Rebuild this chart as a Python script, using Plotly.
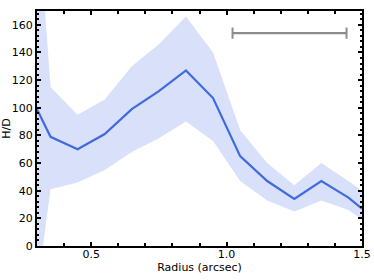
import plotly.graph_objects as go

radius = [0.3, 0.35, 0.45, 0.55, 0.65, 0.75, 0.85, 0.95, 1.05, 1.15, 1.25, 1.35, 1.45, 1.5]
hd = [99, 79, 70, 81, 99, 112, 127, 107, 65, 47, 34, 47, 35, 27]
hd_upper = [250, 115, 95, 106, 130, 146, 166, 140, 84, 60, 44, 60, 47, 40]
hd_lower = [-32, 41, 46, 55, 68, 78, 90, 76, 47, 33, 25, 33, 26, 19]
bar_x = [1.022, 1.443]
bar_y = [154, 154]

fig = go.Figure()
fig.add_trace(go.Scatter(x=radius, y=hd_upper, mode="lines", line=dict(width=0),
                         hoverinfo="skip", showlegend=False))
fig.add_trace(go.Scatter(x=radius, y=hd_lower, mode="lines", line=dict(width=0),
                         fill="tonexty", fillcolor="rgba(100,135,230,0.25)",
                         hoverinfo="skip", showlegend=False))
fig.add_trace(go.Scatter(x=radius, y=hd, mode="lines",
                         line=dict(color="#4169E1", width=2.2), showlegend=False))
fig.add_trace(go.Scatter(x=bar_x, y=bar_y, mode="lines+markers",
                         line=dict(color="#8c8c8c", width=2.2),
                         marker=dict(symbol="line-ns", size=8,
                                     line=dict(color="#8c8c8c", width=2)),
                         showlegend=False))

axis_font = dict(family="DejaVu Sans", size=11, color="black")
fig.update_layout(
    width=374, height=280,
    margin=dict(l=37, r=12, t=11, b=34, autoexpand=False),
    plot_bgcolor="white", paper_bgcolor="white",
    font=axis_font,
    xaxis=dict(range=[0.3, 1.5], showline=True, linewidth=2, linecolor="black",
               mirror="ticks", ticks="inside", ticklen=4, tickwidth=2, tickcolor="black",
               tickvals=[0.5, 1.0, 1.5], ticktext=["0.5", "1.0", "1.5"],
               automargin=False, ticklabelstandoff=-3,
               minor=dict(dtick=0.1, tick0=0.3, ticks="inside", ticklen=3, tickwidth=1.5, tickcolor="black"),
               showgrid=False, zeroline=False,
               title=dict(text="Radius (arcsec)", font=axis_font, standoff=2)),
    yaxis=dict(range=[0, 170], showline=True, linewidth=2, linecolor="black",
               mirror="ticks", ticks="inside", ticklen=4, tickwidth=2, tickcolor="black",
               dtick=20, tick0=0, automargin=False,
               minor=dict(dtick=4, ticks="inside", ticklen=2, tickwidth=1.5, tickcolor="black"),
               showgrid=False, zeroline=False,
               title=dict(text="H/D", font=axis_font, standoff=20)),
)
fig.write_html("out.html", config={"displayModeBar": False},
               post_script="document.body.style.margin='0';document.body.style.overflow='hidden';")
